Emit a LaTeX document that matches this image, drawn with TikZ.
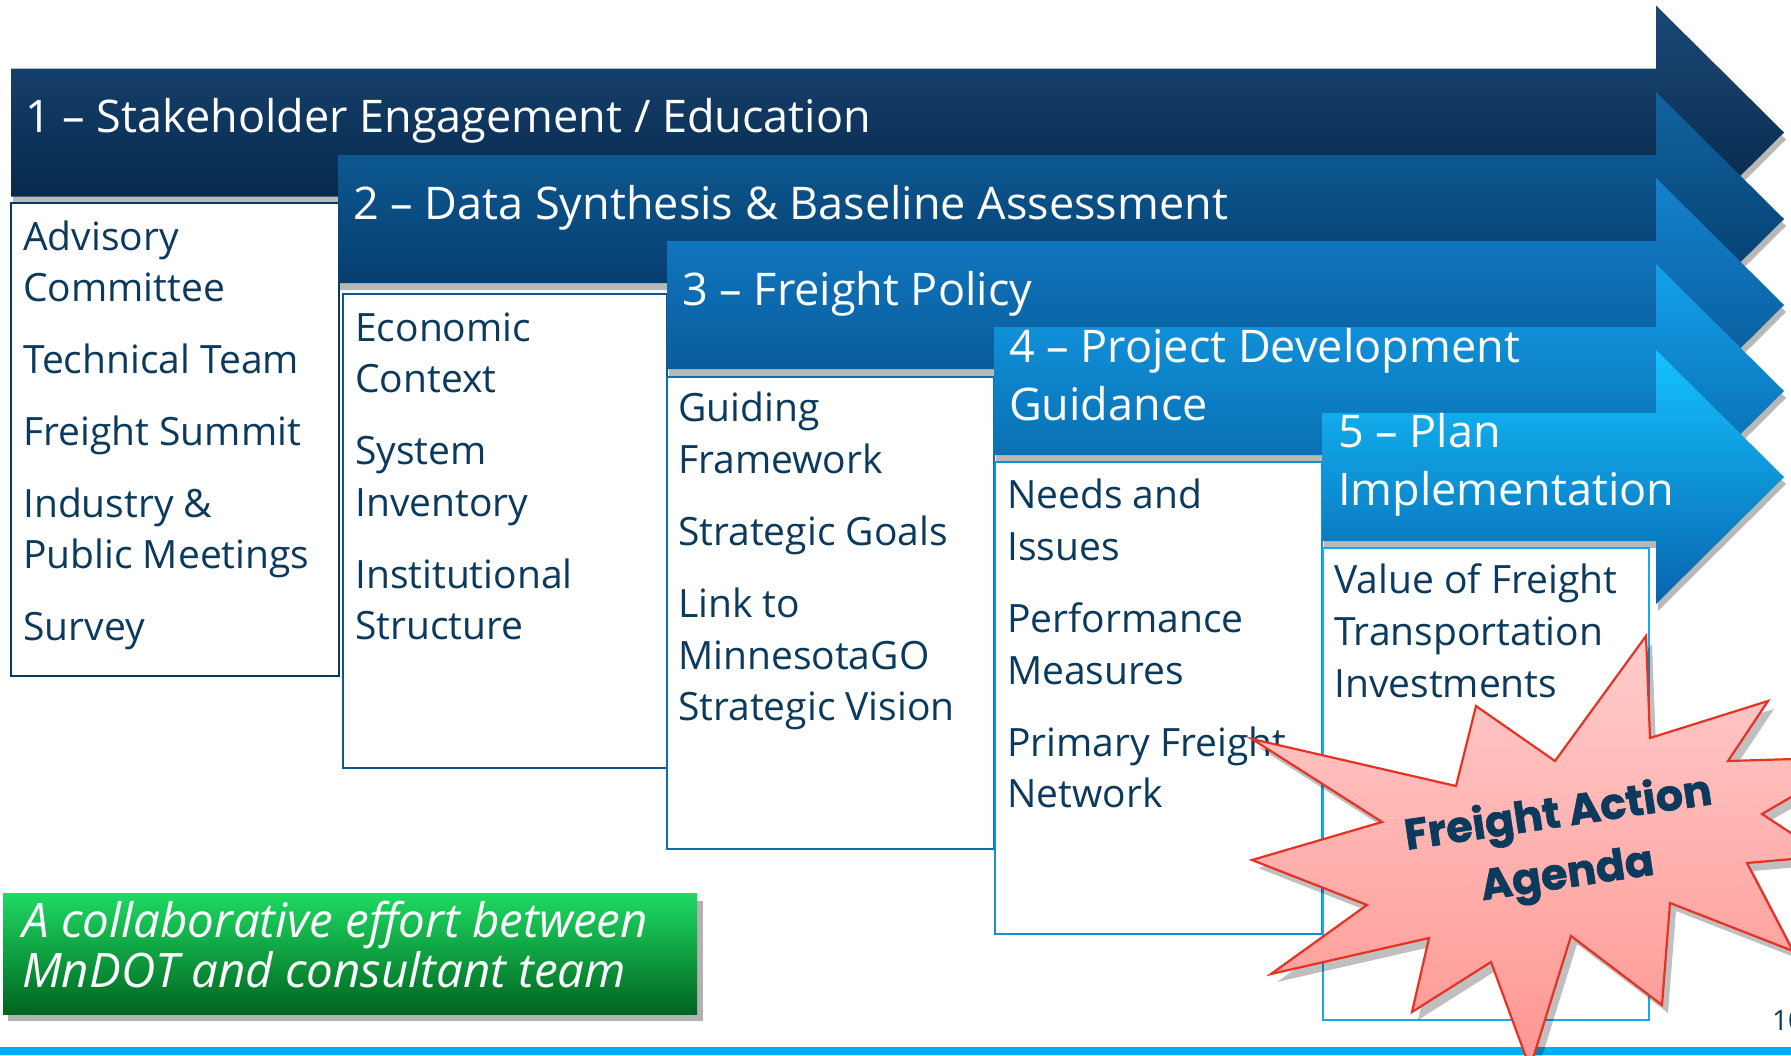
\documentclass[tikz,border=0pt]{standalone}
\usepackage{fontspec}
\setmainfont{Open Sans}
\newfontfamily\starfont{Poppins}[BoldFeatures={FakeBold=1.3}]
\definecolor{navytext}{RGB}{11,58,92}
\definecolor{aAtop}{RGB}{28,72,118}\definecolor{aAbot}{RGB}{0,32,64}
\definecolor{aBtop}{RGB}{16,100,160}\definecolor{aBbot}{RGB}{2,50,95}
\definecolor{aCtop}{RGB}{20,130,205}\definecolor{aCbot}{RGB}{5,80,140}
\definecolor{aDtop}{RGB}{20,160,235}\definecolor{aDbot}{RGB}{6,96,160}
\definecolor{aEtop}{RGB}{20,195,255}\definecolor{aEbot}{RGB}{8,100,175}
\definecolor{bordA}{RGB}{10,55,95}
\definecolor{bordB}{RGB}{20,85,135}
\definecolor{bordC}{RGB}{10,110,175}
\definecolor{bordD}{RGB}{15,145,215}
\definecolor{bordE}{RGB}{20,170,235}
\definecolor{greentop}{RGB}{30,218,100}
\definecolor{greenbot}{RGB}{0,100,30}
\definecolor{startop}{RGB}{255,205,205}
\definecolor{starbot}{RGB}{255,150,145}
\definecolor{starline}{RGB}{230,50,35}
\definecolor{bandblue}{RGB}{0,173,239}
\newcommand{\stagearrow}[4]{%
  \fill[black,opacity=0.28] (#1+2,#2+7) -- (1658,#2+7) -- (1658,#2-56) -- (1786,#2+71) -- (1658,#2+198) -- (1658,#2+135) -- (#1+2,#2+135) -- cycle;
  \shade[top color=#3,bottom color=#4] (#1,#2) -- (1656,#2) -- (1656,#2-63) -- (1784,#2+64) -- (1656,#2+191) -- (1656,#2+128) -- (#1,#2+128) -- cycle;
}
\tikzset{
  body/.style={anchor=base west,inner sep=0pt,text=navytext,font=\fontsize{39}{46}\selectfont},
  title/.style={anchor=base west,inner sep=0pt,text=white,font=\fontsize{45}{50}\selectfont},
  listbox/.style={line width=2pt,fill=white},
  note/.style={anchor=base west,inner sep=0pt,text=white,font=\fontsize{47.5}{50}\selectfont\itshape},
}
\begin{document}
\begin{tikzpicture}[x=1pt,y=-1pt]
\useasboundingbox (0,0) rectangle (1791,1055);
\fill[white] (0,0) rectangle (1791,1055);
% stage 1
\stagearrow{11}{68.5}{aAtop}{aAbot}
\node[title] (t1) at (25,132) {1 – Stakeholder Engagement / Education};
\draw[listbox,draw=bordA] (11,203) rectangle (339,676);
\node[body] (b1a) at (23,250) {Advisory};
\node[body] (b1b) at (23,301.5) {Committee};
\node[body] (b1c) at (23,373.5) {Technical Team};
\node[body] (b1d) at (23,445.5) {Freight Summit};
\node[body] (b1e) at (23,517) {Industry \&};
\node[body] (b1f) at (23,568.5) {Public Meetings};
\node[body] (b1g) at (23,640.5) {Survey};
% stage 2
\stagearrow{338}{155}{aBtop}{aBbot}
\node[title] (t2) at (353,219) {2 – Data Synthesis \& Baseline Assessment};
\draw[listbox,draw=bordB] (343,294) rectangle (667,768);
\node[body] (b2a) at (355,341) {Economic};
\node[body] (b2b) at (355,392) {Context};
\node[body] (b2c) at (355,464) {System};
\node[body] (b2d) at (355,516) {Inventory};
\node[body] (b2e) at (355,588) {Institutional};
\node[body] (b2f) at (355,639) {Structure};
% stage 3
\stagearrow{667}{241}{aCtop}{aCbot}
\node[title] (t3) at (682,305) {3 – Freight Policy};
\draw[listbox,draw=bordC] (667,377) rectangle (994,849);
\node[body] (b3a) at (678,421) {Guiding};
\node[body] (b3b) at (678,473) {Framework};
\node[body] (b3c) at (678,545) {Strategic Goals};
\node[body] (b3d) at (678,617) {Link to};
\node[body] (b3e) at (678,669) {MinnesotaGO};
\node[body] (b3f) at (678,720) {Strategic Vision};
% stage 4
\stagearrow{994}{327}{aDtop}{aDbot}
\node[title] (t4a) at (1009,362) {4 – Project Development};
\node[title] (t4b) at (1009,420) {Guidance};
\draw[listbox,draw=bordD] (995,462) rectangle (1322,934);
\node[body] (b4a) at (1007,508) {Needs and};
\node[body] (b4b) at (1007,560) {Issues};
\node[body] (b4c) at (1007,632) {Performance};
\node[body] (b4d) at (1007,684) {Measures};
\node[body] (b4e) at (1007,756) {Primary Freight};
\node[body] (b4f) at (1007,807) {Network};
% stage 5
\stagearrow{1322}{413}{aEtop}{aEbot}
\node[title] (t5a) at (1338,447) {5 – Plan};
\node[title] (t5b) at (1338,505) {Implementation};
\draw[listbox,draw=bordE] (1323,548) rectangle (1649,1020);
\node[body] (b5a) at (1334,593) {Value of Freight};
\node[body] (b5b) at (1334,645) {Transportation};
\node[body] (b5c) at (1334,697) {Investments};
% green note
\fill[black,opacity=0.3] (8,901) rectangle (703,1021);
\shade[top color=greentop,bottom color=greenbot] (3,893) rectangle (697,1014);
\node[note] (g1) at (22,937) {A collaborative effort between};
\node[note] (g2) at (22,987) {MnDOT and consultant team};
% page number and band
\node[anchor=base west,inner sep=0pt,text=navytext,font=\fontsize{28}{30}\selectfont] (pg) at (1772,1030) {10};
\fill[bandblue] (0,1047) rectangle (1791,1055);
% starburst
\def\starpath{(1646,636) -- (1650,738) -- (1768,701) -- (1728,761) -- (1860,757) -- (1762,814) -- (1826,856) -- (1747,863) -- (1793,951) -- (1670,903) -- (1662,1005) -- (1571,936) -- (1530,1068) -- (1491,962) -- (1412,1012) -- (1429,938) -- (1271,974) -- (1367,905) -- (1252,860) -- (1382,822) -- (1252,739) -- (1456,786) -- (1476,706) -- (1555,761) -- cycle}
\fill[black,opacity=0.25,shift={(6,8)}] \starpath;
\shade[top color=startop,bottom color=starbot] \starpath;
\draw[starline,line width=2.2pt,line join=miter] \starpath;
\node[rotate=8.5,align=center,inner sep=0pt,text=navytext,font=\starfont\bfseries\fontsize{43}{61}\selectfont] (star) at (1563,846) {Freight Action\\Agenda};
\end{tikzpicture}
\end{document}
